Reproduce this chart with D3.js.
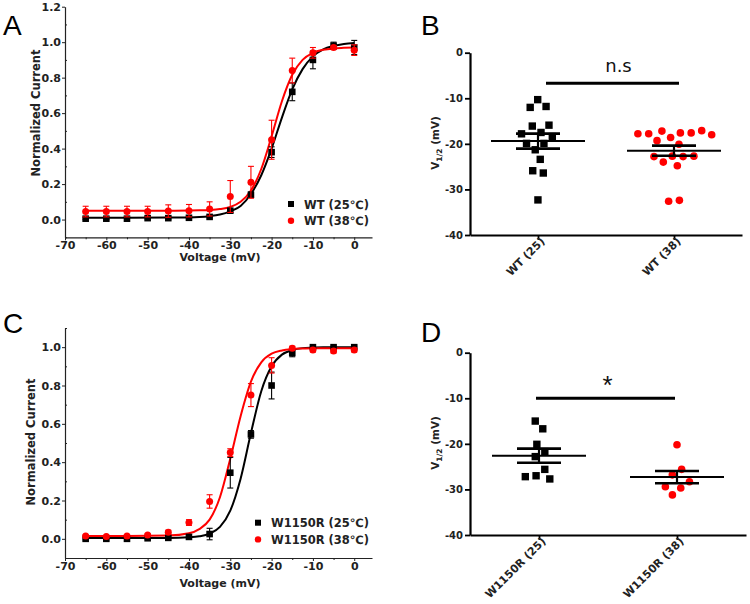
<!DOCTYPE html>
<html><head><meta charset="utf-8">
<script src="https://cdn.jsdelivr.net/npm/d3@7"></script>
<style>
body{margin:0;background:#fff;}
svg{display:block;font-family:"DejaVu Sans","Liberation Sans",Arial,sans-serif;}
</style></head><body>
<svg id="chart" width="750" height="604"></svg>
<script>
// ---------- Data ----------
const voltage = [-65,-60,-55,-50,-45,-40,-35,-30,-25,-20,-15,-10,-5,0];
// Panel A: WT
const wt25 = [0.005,0.005,0.005,0.008,0.008,0.01,0.015,0.05,0.14,0.38,0.72,0.90,0.98,0.97];
const wt25Err = [0.005,0.005,0.005,0.005,0.005,0.005,0.005,0.01,0.015,0.03,0.05,0.05,0.02,0.04];
const wt38 = [0.045,0.045,0.045,0.045,0.048,0.05,0.06,0.13,0.21,0.45,0.84,0.94,0.97,0.955];
const wt38Err = [0.03,0.03,0.03,0.03,0.035,0.035,0.04,0.09,0.09,0.11,0.07,0.03,0.01,0.03];
// Panel C: W1150R
const w25 = [0.0,0.0,0.0,0.003,0.005,0.01,0.025,0.345,0.545,0.80,0.97,1.0,1.0,1.0];
const w25Err = [0.005,0.005,0.005,0.005,0.005,0.005,0.03,0.08,0.02,0.07,0.02,0.005,0.005,0.005];
const w38 = [0.015,0.012,0.015,0.02,0.035,0.085,0.195,0.45,0.75,0.905,0.995,0.985,0.98,0.985];
const w38Err = [0.005,0.005,0.005,0.005,0.01,0.015,0.035,0.02,0.06,0.04,0.01,0.01,0.01,0.01];
// Fitted curves (values read from the drawn fits)
const fitV = [-65,-55,-45,-40,-37.5,-35,-32.5,-30,-27.5,-25,-22.5,-20,-17.5,-15,-12.5,-10,-7.5,-5,-2.5,0];
const fitWT25 = [0.01,0.01,0.011,0.012,0.014,0.019,0.028,0.046,0.076,0.144,0.25,0.40,0.575,0.734,0.848,0.92,0.96,0.979,0.99,0.995];
const fitWT38 = [0.05,0.05,0.05,0.051,0.052,0.054,0.059,0.071,0.10,0.163,0.285,0.469,0.667,0.816,0.90,0.94,0.957,0.965,0.968,0.97];
const fitW25 = [0.005,0.005,0.005,0.008,0.013,0.027,0.062,0.147,0.314,0.552,0.77,0.90,0.961,0.985,0.995,0.998,1.0,1.0,1.0,1.0];
const fitW38 = [0.015,0.015,0.017,0.029,0.051,0.10,0.217,0.418,0.64,0.82,0.921,0.966,0.983,0.99,0.993,0.995,0.995,0.995,0.995,0.995];
// Panel B: V1/2 WT
const catsB = ["WT (25)","WT (38)"];
const vB25 = [-10.3,-11.8,-12.0,-15.9,-16.1,-17.5,-17.8,-18.4,-19.9,-19.9,-21.3,-23.4,-25.9,-26.4,-32.3];
const vB38 = [-17.1,-17.6,-17.8,-18.0,-17.8,-17.6,-17.2,-18.6,-19.3,-20.1,-22.7,-22.8,-22.8,-22.7,-24.0,-24.8,-32.6,-32.4];
const meanB = [-19.4,-21.5];
const semB = [1.65,1.1];
// Panel D: V1/2 W1150R
const catsD = ["W1150R (25)","W1150R (38)"];
const vD25 = [-15.0,-16.7,-20.1,-21.7,-22.8,-25.6,-27.0,-27.7,-27.2];
const vD38 = [-20.2,-25.6,-26.8,-28.3,-29.4,-29.7,-31.2];
const meanD = [-22.6,-27.3];
const semD = [1.55,1.35];
const yTicksCurveA = [0,0.2,0.4,0.6,0.8,1.0,1.2];
const yTicksCurveC = [0,0.2,0.4,0.6,0.8,1.0];
const xTicksCurve = [-70,-60,-50,-40,-30,-20,-10,0];
const yTicksDot = [0,-10,-20,-30,-40];

// ---------- Drawing ----------
const svg = d3.select("#chart");
const RED = "#ff0000";
const BLACK = "#000000";
const BOLDFONT = "'DejaVu Sans',sans-serif";

function panelLetter(t, x, y) {
  svg.append("text").attr("x", x).attr("y", y).attr("font-size", 28)
    .attr("font-family", "'Liberation Sans',Arial,sans-serif").text(t);
}

function curvePanel(o) {
  const g = svg.append("g");
  const x = o.x, y = o.y;
  g.append("g").attr("transform", `translate(0,${y.range()[0]})`)
    .call(d3.axisBottom(x).tickValues(xTicksCurve).tickSize(3).tickPadding(1).tickSizeOuter(0).tickFormat(d => String(d)));
  g.append("g").attr("transform", `translate(0,${y.range()[0]})`)
    .call(d3.axisBottom(x).tickValues(d3.range(-65, 1, 10)).tickSize(2).tickSizeOuter(0).tickFormat(""))
    .select(".domain").remove();
  g.append("g").attr("transform", `translate(${x.range()[0]},0)`)
    .call(d3.axisLeft(y).tickValues(o.yTicks).tickSize(3).tickPadding(1).tickSizeOuter(0).tickFormat(d3.format(".1f")));
  g.append("g").attr("transform", `translate(${x.range()[0]},0)`)
    .call(d3.axisRight(y).tickValues(o.yMinor).tickSize(2).tickSizeOuter(0).tickFormat(""))
    .select(".domain").remove();
  g.selectAll(".domain").attr("stroke", "#222").attr("stroke-width", 1.2);
  g.selectAll(".tick line").attr("stroke", "#222");
  g.selectAll(".tick text").attr("font-size", 11).attr("font-weight", "bold").attr("fill", "#222")
    .attr("font-family", BOLDFONT);
  g.append("text").attr("transform", `translate(${o.yLabelX},${o.yLabelY}) rotate(-90)`)
    .attr("text-anchor", "middle").attr("font-size", 11.5).attr("font-weight", "bold").attr("fill", "#222")
    .text("Normalized Current");
  g.append("text").attr("x", 220).attr("y", o.xLabelY).attr("text-anchor", "middle")
    .attr("font-size", 11).attr("font-weight", "bold").attr("fill", "#222").text("Voltage (mV)");

  const line = d3.line().x(d => x(d[0])).y(d => y(d[1])).curve(d3.curveMonotoneX);
  o.series.forEach(s => {
    g.append("path").datum(fitV.map((v, i) => [v, s.fit[i]]))
      .attr("d", line).attr("fill", "none").attr("stroke", s.color).attr("stroke-width", 2);
  });
  o.series.forEach(s => {
    const pts = voltage.map((v, i) => ({v, m: s.mean[i], e: s.err[i]}));
    const eg = g.append("g").attr("stroke", s.color).attr("stroke-width", 1.1);
    pts.forEach(p => {
      eg.append("line").attr("x1", x(p.v)).attr("x2", x(p.v)).attr("y1", y(p.m + p.e)).attr("y2", y(p.m - p.e));
      eg.append("line").attr("x1", x(p.v) - 3).attr("x2", x(p.v) + 3).attr("y1", y(p.m + p.e)).attr("y2", y(p.m + p.e));
      eg.append("line").attr("x1", x(p.v) - 3).attr("x2", x(p.v) + 3).attr("y1", y(p.m - p.e)).attr("y2", y(p.m - p.e));
    });
    pts.forEach(p => {
      if (s.shape === "square") {
        g.append("rect").attr("x", x(p.v) - 3.3).attr("y", y(p.m) - 3.3).attr("width", 6.6).attr("height", 6.6).attr("fill", s.color);
      } else {
        g.append("circle").attr("cx", x(p.v)).attr("cy", y(p.m)).attr("r", 3.5).attr("fill", s.color);
      }
    });
  });
  o.series.forEach((s, i) => {
    const ly = o.legend[1] + i * 16.7;
    if (s.shape === "square") {
      g.append("rect").attr("x", o.legend[0] - 3).attr("y", ly - 3).attr("width", 6).attr("height", 6).attr("fill", s.color);
    } else {
      g.append("circle").attr("cx", o.legend[0]).attr("cy", ly).attr("r", 3.2).attr("fill", s.color);
    }
    g.append("text").attr("x", o.legend[0] + 13).attr("y", ly + 4.5).attr("font-size", 11.5).attr("font-weight", "bold")
      .attr("fill", "#222").text(s.name);
  });
}

function dotPanel(o) {
  const g = svg.append("g");
  const x = o.x, y = o.y;
  g.append("g").attr("transform", `translate(${x.range()[0]},0)`)
    .call(d3.axisLeft(y).tickValues(yTicksDot).tickSize(5).tickPadding(2).tickSizeOuter(0).tickFormat(d => String(d)));
  const xa = g.append("g").attr("transform", `translate(0,${y.range()[0]})`)
    .call(d3.axisBottom(x).tickSize(5).tickSizeOuter(0));
  g.selectAll(".domain").attr("stroke", "#000").attr("stroke-width", 2.2);
  g.selectAll(".tick line").attr("stroke", "#000").attr("stroke-width", 1.8);
  g.selectAll(".tick text").attr("font-size", 10).attr("font-weight", "bold").attr("fill", "#222")
    .attr("font-family", BOLDFONT);
  xa.selectAll(".tick text").attr("text-anchor", "end").attr("y", 0).attr("dy", 0)
    .attr("transform", "translate(7,7) rotate(-45)").attr("font-size", 11);
  const yl = g.append("text").attr("transform", `translate(439,${o.yLabelY}) rotate(-90)`)
    .attr("text-anchor", "middle").attr("font-size", 10.5).attr("font-weight", "bold").attr("fill", "#222");
  yl.append("tspan").text("V");
  yl.append("tspan").attr("font-size", 7.5).attr("dy", 3).text("1/2");
  yl.append("tspan").attr("dy", -3).text(" (mV)");

  // points (beeswarm layout via d3-force)
  o.groups.forEach((grp, gi) => {
    const cx = x(o.cats[gi]);
    const nodes = grp.vals.map((v, i) => ({x: cx + (i % 2 ? 1 : -1) * ((i % 5) + 0.5), fy: y(v), y: y(v)}));
    const sim = d3.forceSimulation(nodes)
      .force("x", d3.forceX(cx).strength(0.06))
      .force("c", d3.forceCollide(5.4))
      .stop();
    for (let k = 0; k < 300; k++) sim.tick();
    nodes.forEach(n => {
      if (grp.shape === "square") {
        g.append("rect").attr("x", n.x - 3.7).attr("y", n.fy - 3.7).attr("width", 7.4).attr("height", 7.4).attr("fill", grp.color);
      } else {
        g.append("circle").attr("cx", n.x).attr("cy", n.fy).attr("r", 3.8).attr("fill", grp.color);
      }
    });
  });
  o.cats.forEach((c, i) => {
    const cx = x(c), m = o.means[i], s = o.sems[i];
    g.append("line").attr("x1", cx - 47).attr("x2", cx + 47).attr("y1", y(m)).attr("y2", y(m)).attr("stroke", "#000").attr("stroke-width", 2);
    [m + s, m - s].forEach(v => g.append("line").attr("x1", cx - 22).attr("x2", cx + 22).attr("y1", y(v)).attr("y2", y(v))
      .attr("stroke", "#000").attr("stroke-width", 2.6));
    g.append("line").attr("x1", cx).attr("x2", cx).attr("y1", y(m + s)).attr("y2", y(m - s)).attr("stroke", "#000").attr("stroke-width", 2.2);
  });
  const x1 = x(o.cats[0]) + o.sig.dx[0], x2 = x(o.cats[1]) + o.sig.dx[1];
  g.append("line").attr("x1", x1).attr("x2", x2).attr("y1", y(o.sig.y)).attr("y2", y(o.sig.y)).attr("stroke", "#000").attr("stroke-width", 3);
  g.append("text").attr("x", (x1 + x2) / 2 + o.sig.tdx).attr("y", y(o.sig.ty)).attr("text-anchor", "middle")
    .attr("font-size", o.sig.size).attr("fill", "#111").attr("font-family", o.sig.font).text(o.sig.text);
}

const xCurve = d3.scaleLinear().domain([-70, 4.3]).range([65, 372]);
// Panel A
curvePanel({
  x: xCurve,
  y: d3.scaleLinear().domain([-0.1, 1.2]).range([237.3, 6.7]),
  yTicks: yTicksCurveA, yMinor: [-0.1,0.1,0.3,0.5,0.7,0.9,1.1],
  yLabelX: 40, yLabelY: 113, xLabelY: 261,
  legend: [291, 204],
  series: [
    {name: "WT (25\u2103)", mean: wt25, err: wt25Err, fit: fitWT25, color: BLACK, shape: "square"},
    {name: "WT (38\u2103)", mean: wt38, err: wt38Err, fit: fitWT38, color: RED, shape: "circle"}
  ]
});
// Panel C
curvePanel({
  x: xCurve,
  y: d3.scaleLinear().domain([-0.1, 1.1]).range([558, 328]),
  yTicks: yTicksCurveC, yMinor: [-0.1,0.1,0.3,0.5,0.7,0.9,1.1],
  yLabelX: 35, yLabelY: 442, xLabelY: 587,
  legend: [258, 522.7],
  series: [
    {name: "W1150R (25\u2103)", mean: w25, err: w25Err, fit: fitW25, color: BLACK, shape: "square"},
    {name: "W1150R (38\u2103)", mean: w38, err: w38Err, fit: fitW38, color: RED, shape: "circle"}
  ]
});
// Panel B
dotPanel({
  x: d3.scalePoint().domain(catsB).range([470, 742]).padding(0.5),
  y: d3.scaleLinear().domain([-40, 0]).range([235, 52.7]),
  cats: catsB, yLabelY: 143,
  groups: [{vals: vB25, color: BLACK, shape: "square"}, {vals: vB38, color: RED, shape: "circle"}],
  means: meanB, sems: semB,
  sig: {y: -6.7, dx: [8, 5], text: "n.s", ty: -4.2, tdx: 6, size: 18, font: "'DejaVu Sans',sans-serif"}
});
// Panel D
dotPanel({
  x: d3.scalePoint().domain(catsD).range([470, 746]).padding(0.5),
  y: d3.scaleLinear().domain([-40, 0]).range([535, 352.7]),
  cats: catsD, yLabelY: 443,
  groups: [{vals: vD25, color: BLACK, shape: "square"}, {vals: vD38, color: RED, shape: "circle"}],
  means: meanD, sems: semD,
  sig: {y: -10, dx: [-3, -2], text: "*", ty: -9.1, tdx: 2, size: 26, font: "'Liberation Sans',Arial,sans-serif"}
});

panelLetter("A", 3, 35);
panelLetter("B", 421, 35);
panelLetter("C", 3, 333);
panelLetter("D", 421, 342);
</script>
</body></html>
